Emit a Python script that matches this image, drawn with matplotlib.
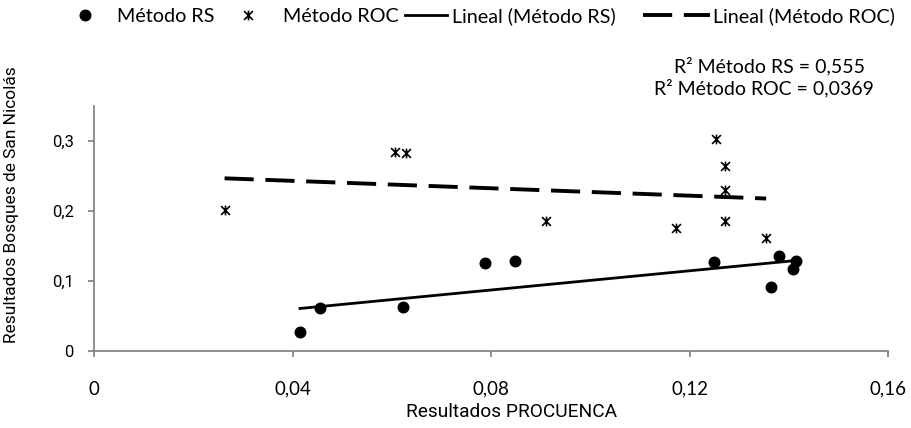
import numpy as np
import matplotlib
matplotlib.use('Agg')
import matplotlib.pyplot as plt
from matplotlib.path import Path
from matplotlib.lines import Line2D

# --- datos ---
rs_x = [0.0415, 0.0455, 0.0622, 0.0788, 0.0849, 0.1248, 0.1364, 0.1379, 0.1409, 0.1414]
rs_y = [0.0264, 0.0608, 0.0622, 0.1254, 0.1277, 0.1273, 0.0910, 0.1359, 0.1168, 0.1283]

roc_x = [0.0263, 0.0606, 0.0628, 0.0910, 0.1172, 0.1252, 0.1272, 0.1272, 0.1272, 0.1354]
roc_y = [0.2009, 0.2846, 0.2822, 0.1851, 0.1756, 0.3023, 0.2636, 0.2296, 0.1851, 0.1613]

x_ticks = [0, 0.04, 0.08, 0.12, 0.16]
x_labels = ['0', '0,04', '0,08', '0,12', '0,16']
y_ticks = [0, 0.1, 0.2, 0.3]
y_labels = ['0', '0,1', '0,2', '0,3']

r2_texts = ['R² Método RS = 0,555', 'R² Método ROC = 0,0369']

# marcador estrella tipo Excel (x + linea vertical)
star = Path([(-1, -1), (1, 1), (-1, 1), (1, -1), (0, -1.1), (0, 1.1)],
            [Path.MOVETO, Path.LINETO, Path.MOVETO, Path.LINETO, Path.MOVETO, Path.LINETO])

FONT_C = ['Lato', 'DejaVu Sans']
FONT_R = ['Roboto', 'DejaVu Sans']
gray = '#868686'
dash = (0, (7.5, 3.0))

fig = plt.figure(figsize=(9.11, 4.28), dpi=100)
ax = fig.add_axes([94 / 911, 1 - 350.7 / 428, (888.3 - 94) / 911, (350.7 - 106) / 428])

# puntos
ax.plot(rs_x, rs_y, 'o', color='black', ms=7.6, ls='none', zorder=3)
ax.plot(roc_x, roc_y, marker=star, color='black', ms=7, mew=1.2, ls='none', zorder=3)

# lineas de tendencia (ajuste lineal)
for xs, ys, style, lw in [(rs_x, rs_y, '-', 2.0), (roc_x, roc_y, dash, 2.8)]:
    m, b = np.polyfit(xs, ys, 1)
    xx = np.array([min(xs), max(xs)])
    ax.plot(xx, m * xx + b, color='black', lw=lw, ls=style, zorder=2)

ax.set_xlim(0, 0.16)
ax.set_ylim(0, 0.35)
ax.set_xticks(x_ticks)
ax.set_xticklabels(x_labels, family=FONT_C, fontsize=13.5)
ax.set_yticks(y_ticks)
ax.set_yticklabels(y_labels, family=FONT_R, fontsize=12)

for s in ['top', 'right']:
    ax.spines[s].set_visible(False)
for s in ['left', 'bottom']:
    ax.spines[s].set_color(gray)
    ax.spines[s].set_linewidth(1.3)
ax.tick_params(axis='both', color=gray, width=1.3, length=4.5, direction='out')
ax.tick_params(axis='x', pad=17)
ax.tick_params(axis='y', pad=10)

# titulos de ejes
fig.text(512 / 911, 1 - 412 / 428, 'Resultados PROCUENCA', family=FONT_R, fontsize=13.8,
         ha='center', va='center')
fig.text(12 / 911, 1 - 205 / 428, 'Resultados Bosques de San Nicolás', family=FONT_R, fontsize=12.5,
         ha='center', va='center', rotation=90)

# textos R²
fig.text(769 / 911, 1 - 66 / 428, r2_texts[0], family=FONT_C, fontsize=14, ha='center', va='center')
fig.text(764 / 911, 1 - 88 / 428, r2_texts[1], family=FONT_C, fontsize=14, ha='center', va='center')

# leyenda: una entrada por llamada para controlar posiciones
leg_size = 14.2
em = leg_size * 100 / 72
entries = [
    (Line2D([], [], marker='o', color='black', ms=7.6, ls='none'), 'Método RS', 73, 24, 20),
    (Line2D([], [], marker=star, color='black', ms=7, mew=1.2, ls='none'), 'Método ROC', 236, 24, 23),
    (Line2D([], [], color='black', lw=2.0), 'Lineal (Método RS)', 405, 42, 5),
    (Line2D([], [], color='black', lw=2.8, ls=dash), 'Lineal (Método ROC)', 643, 67, 3),
]
for h, lab, x0, hl, tp in entries:
    fig.legend([h], [lab], loc='center left', bbox_to_anchor=(x0 / 911, 1 - 16 / 428),
               frameon=False, borderpad=0, borderaxespad=0, handlelength=hl / em,
               handletextpad=tp / em, prop={'family': FONT_C, 'size': leg_size})

fig.savefig('out.png', dpi=100)
